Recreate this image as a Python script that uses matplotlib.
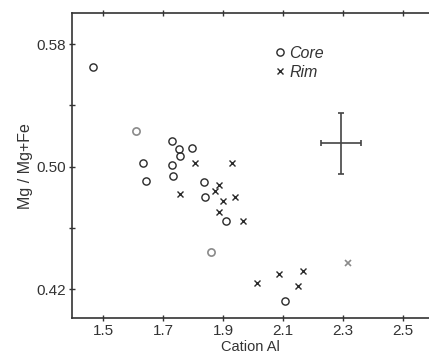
import matplotlib
matplotlib.use("Agg")
import matplotlib.pyplot as plt

core_x = [1.466, 1.731, 1.753, 1.797, 1.757, 1.632, 1.731, 1.643, 1.733, 1.837, 1.840, 1.911, 2.107]
core_y = [0.5651, 0.5170, 0.5113, 0.5120, 0.5070, 0.5022, 0.5011, 0.4907, 0.4943, 0.4900, 0.4800, 0.4647, 0.4127]
core_faint_x = [1.610, 1.859]
core_faint_y = [0.5235, 0.4445]

rim_x = [1.806, 1.931, 1.757, 1.886, 1.874, 1.899, 1.939, 1.888, 1.968, 2.014, 2.087, 2.166, 2.149]
rim_y = [0.5028, 0.5024, 0.4824, 0.4880, 0.4841, 0.4780, 0.4804, 0.4702, 0.4647, 0.4244, 0.4303, 0.4321, 0.4225]
rim_faint_x = [2.318]
rim_faint_y = [0.4375]

err_x, err_y = 2.293, 0.5152
err_dx, err_dy = 0.066, 0.0198

xticks = [1.5, 1.7, 1.9, 2.1, 2.3, 2.5]
xticklabels = ["1.5", "1.7", "1.9", "2.1", "2.3", "2.5"]
yticks = [0.42, 0.46, 0.50, 0.54, 0.58]
yticklabels = ["0.42", "", "0.50", "", "0.58"]

plt.rcParams['font.family'] = ['Liberation Sans', 'DejaVu Sans']

fig = plt.figure(figsize=(4.29, 3.57), dpi=100)
ax = fig.add_axes([0.168, 0.109, 0.832, 0.854])

dark = "#2a2a2a"
faint = "#8a8a8a"

ax.plot(core_x, core_y, linestyle="none", marker="o", ms=5.2, mfc="none", mec=dark, mew=1.0, label="Core")
ax.plot(core_faint_x, core_faint_y, linestyle="none", marker="o", ms=5.2, mfc="none", mec=faint, mew=1.2)
ax.plot(rim_x, rim_y, linestyle="none", marker="x", ms=4.5, mec=dark, mew=1.0, label="Rim")
ax.plot(rim_faint_x, rim_faint_y, linestyle="none", marker="x", ms=4.5, mec=faint, mew=1.2)

ax.errorbar([err_x], [err_y], xerr=[err_dx], yerr=[err_dy], fmt="none",
            ecolor="#444444", elinewidth=1.2, capsize=2.5, capthick=1.2)

ax.set_xlim(1.397, 2.587)
ax.set_ylim(0.4013, 0.6002)
ax.set_xticks(xticks)
ax.set_xticklabels(xticklabels)
ax.set_yticks(yticks)
ax.set_yticklabels(yticklabels)

ax.spines['right'].set_visible(False)
for s in ['left', 'bottom', 'top']:
    ax.spines[s].set_linewidth(1.2)
    ax.spines[s].set_color("#333333")

ax.tick_params(axis='both', direction='inout', length=5, width=1, colors="#333333",
               labelsize=11, labelcolor="#333333")
ax.tick_params(axis='x', top=True, labeltop=False, pad=2)
ax.tick_params(axis='y', pad=2)

ax.set_xlabel("Cation Al", fontsize=10.5, color="#333333", labelpad=1)
ax.set_ylabel("Mg / Mg+Fe", fontsize=11.5, color="#333333", labelpad=2)

leg = ax.legend(loc="upper left", bbox_to_anchor=(0.53, 0.93), frameon=False,
                prop={'style': 'italic', 'size': 11.5}, handletextpad=0.05,
                handlelength=1.0, labelspacing=0.25, borderpad=0.2)
for t in leg.get_texts():
    t.set_color("#333333")

fig.savefig("out.png", dpi=100)
